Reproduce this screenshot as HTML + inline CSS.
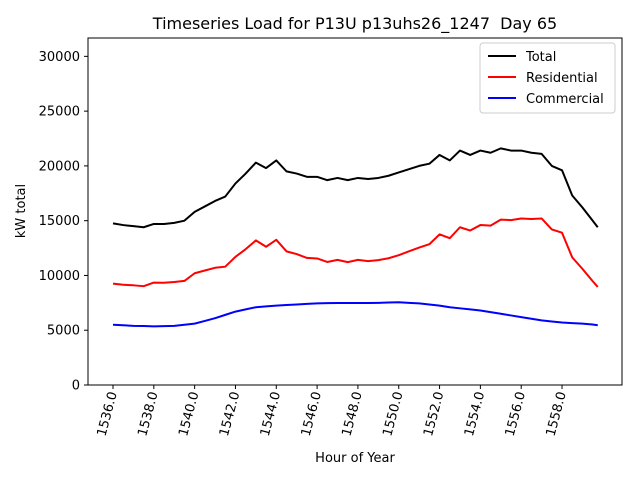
<!DOCTYPE html>
<html><head><meta charset="utf-8"><style>
body{margin:0;background:#fff;font-family:"Liberation Sans","DejaVu Sans",sans-serif}
text{font-family:"DejaVu Sans","Liberation Sans",sans-serif}
</style></head><body>
<svg id="chart" width="640" height="480" viewBox="0 0 640 480" xmlns="http://www.w3.org/2000/svg">
<rect width="640" height="480" fill="#fff"/>
<text x="355" y="29" font-size="16" text-anchor="middle">Timeseries Load for P13U p13uhs26_1247&#160; Day 65</text>
<g id="plot"></g>
<rect x="88" y="38" width="534" height="347" fill="none" stroke="#000" stroke-width="1"/>
<text transform="translate(25,211) rotate(-90)" font-size="13" text-anchor="middle">kW total</text>
<text x="355" y="462" font-size="13" text-anchor="middle">Hour of Year</text>
<g>
<rect x="480" y="43" width="135" height="70" rx="3" fill="#fff" stroke="#ccc"/>
<line x1="488" y1="56" x2="516" y2="56" stroke="#000" stroke-width="2"/>
<text x="526" y="61" font-size="13">Total</text>
<line x1="488" y1="77" x2="516" y2="77" stroke="#f00" stroke-width="2"/>
<text x="526" y="82" font-size="13">Residential</text>
<line x1="488" y1="98" x2="516" y2="98" stroke="#00f" stroke-width="2"/>
<text x="526" y="103" font-size="13">Commercial</text>
</g>
</svg>
<script>
const hours=[1536,1536.5,1537,1537.5,1538,1538.5,1539,1539.5,1540,1540.5,1541,1541.5,1542,1542.5,1543,1543.5,1544,1544.5,1545,1545.5,1546,1546.5,1547,1547.5,1548,1548.5,1549,1549.5,1550,1550.5,1551,1551.5,1552,1552.5,1553,1553.5,1554,1554.5,1555,1555.5,1556,1556.5,1557,1557.5,1558,1558.5,1559,1559.5,1559.75];
const total=[14750,14600,14500,14400,14700,14700,14800,15000,15800,16300,16800,17200,18400,19300,20300,19800,20500,19500,19300,19000,19000,18700,18900,18700,18900,18800,18900,19100,19400,19700,20000,20200,21000,20500,21400,21000,21400,21200,21600,21400,21400,21200,21100,20000,19600,17300,16200,15000,14400];
const residential=[9250,9150,9100,9020,9350,9330,9400,9500,10200,10450,10700,10800,11700,12400,13200,12620,13250,12200,11950,11600,11550,11230,11420,11220,11420,11310,11400,11570,11850,12200,12550,12850,13750,13400,14400,14100,14600,14550,15100,15050,15200,15150,15200,14200,13900,11650,10600,9480,8950];
const commercial=[5500,5450,5400,5380,5350,5370,5400,5500,5600,5850,6100,6400,6700,6900,7100,7180,7250,7300,7350,7400,7450,7470,7480,7480,7480,7490,7500,7530,7550,7500,7450,7350,7250,7100,7000,6900,6800,6650,6500,6350,6200,6050,5900,5800,5700,5650,5600,5520,5450];
const yTicks=[0,5000,10000,15000,20000,25000,30000];
const xTicks=[1536,1538,1540,1542,1544,1546,1548,1550,1552,1554,1556,1558];
const NS="http://www.w3.org/2000/svg";
const g=document.getElementById('plot');
const xs=h=>113+(h-1536)*20.41;
const ys=v=>385-v*0.010955;
function mk(t,a){const e=document.createElementNS(NS,t);for(const k in a)e.setAttribute(k,a[k]);return e;}
yTicks.forEach(v=>{
  const l=mk('line',{x1:84,x2:88,y1:ys(v),y2:ys(v),stroke:'#000'});
  
  
  g.appendChild(l);
  const t=mk('text',{x:80,y:ys(v)+4.5,'font-size':13,'text-anchor':'end'});
  
  
  t.textContent=v;g.appendChild(t);
});
xTicks.forEach(h=>{
  const x=xs(h);
  const l=mk('line',{x1:x,x2:x,y1:385,y2:389,stroke:'#000'});
  
  
  g.appendChild(l);
  const t=mk('text',{transform:`translate(${x+4},393) rotate(-75)`,'font-size':13,'text-anchor':'end'});
  
  
  t.textContent=h.toFixed(1);g.appendChild(t);
});
[[total,'#000','total-line'],[residential,'#f00','residential-line'],[commercial,'#00f','commercial-line']].forEach(([s,c,n])=>{
  const p=mk('polyline',{points:s.map((v,i)=>xs(hours[i])+','+ys(v)).join(' '),fill:'none',stroke:c,'stroke-width':2,'stroke-linejoin':'round'});
  
  
  g.appendChild(p);
});
</script>
</body></html>
